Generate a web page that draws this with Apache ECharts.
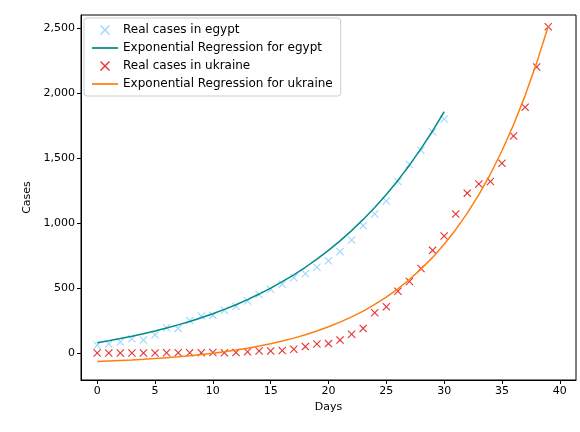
<!DOCTYPE html><html><head><meta charset="utf-8"><script src="https://cdn.jsdelivr.net/npm/echarts@6/dist/echarts.min.js"></script></head><body style="margin:0"><div id="c" style="width:580px;height:432px"></div><script>
const days=[...Array(40).keys()];
const xTicks=[0,5,10,15,20,25,30,35,40];
const yTicks=[0,500,1000,1500,2000,2500];
const egyptReal=[60,70,85,110,100,140,195,190,250,285,290,330,360,400,450,490,530,580,610,660,710,780,870,980,1070,1170,1320,1450,1560,1700,1800];
const egyptFit=[80,95,112,130,149,170,193,217,243,272,303,336,372,411,454,499,549,602,660,723,790,863,942,1028,1120,1220,1328,1445,1572,1708,1856];
const ukraineReal=[1,1,1,1,1,1,2,3,3,3,4,3,5,10,16,16,20,30,50,70,73,100,145,190,310,356,475,550,650,790,900,1070,1230,1300,1320,1460,1670,1890,2200,2510];
const ukraineFit=[-65,-61,-57,-53,-48,-42,-35,-28,-20,-11,-1,11,24,38,54,72,93,115,141,170,202,238,278,323,374,431,494,566,646,736,837,949,1076,1218,1377,1556,1756,1980,2232,2514];
const names=['Real cases in egypt','Exponential Regression for egypt','Real cases in ukraine','Exponential Regression for ukraine'];
const X='path://M0,1L1,0L5,4L9,0L10,1L6,5L10,9L9,10L5,6L1,10L0,9L4,5Z';
const pair=a=>a.map((v,i)=>[i,v]);
const sc=(n,d,c)=>({name:n,type:'scatter',data:pair(d),symbol:X,symbolSize:8,itemStyle:{color:c}});
const ln=(n,d,c)=>({name:n,type:'line',data:pair(d),showSymbol:false,symbol:'none',lineStyle:{color:c,width:1.5},itemStyle:{color:c}});
const F='DejaVu Sans';
const mk=(o,ticks)=>Object.assign({type:'value',nameLocation:'middle',
 axisLine:{show:true,onZero:false,lineStyle:{color:'#000'}},
 axisTick:{show:true,length:4,lineStyle:{color:'#000'},customValues:ticks},
 axisLabel:{color:'#000',fontSize:11,fontFamily:F,customValues:ticks,margin:6},
 splitLine:{show:false},nameTextStyle:{color:'#000',fontSize:11,fontFamily:F}},o);
echarts.init(document.getElementById('c')).setOption({animation:false,
grid:{left:81,right:4,top:15,bottom:52,show:true,borderColor:'#000'},
xAxis:mk({min:-1.4,max:41.4,name:'Days',nameGap:22},xTicks),
yAxis:mk({min:-207,max:2600,name:'Cases',nameGap:46},yTicks),
legend:{orient:'vertical',left:84,top:18,itemGap:6,itemWidth:26,itemHeight:10,backgroundColor:'#fff',borderColor:'#ccc',borderWidth:1,borderRadius:3,padding:[6,8],textStyle:{fontSize:12,fontFamily:F,color:'#000'},
data:[{name:names[0],icon:X},{name:names[1],icon:'path://M0,0L30,0L30,2L0,2Z'},{name:names[2],icon:X},{name:names[3],icon:'path://M0,0L30,0L30,2L0,2Z'}]},
series:[sc(names[0],egyptReal,'#87CEFA'),ln(names[1],egyptFit,'#008B8B'),sc(names[2],ukraineReal,'#e00000'),ln(names[3],ukraineFit,'#ff7f0e')]});
</script></body></html>
